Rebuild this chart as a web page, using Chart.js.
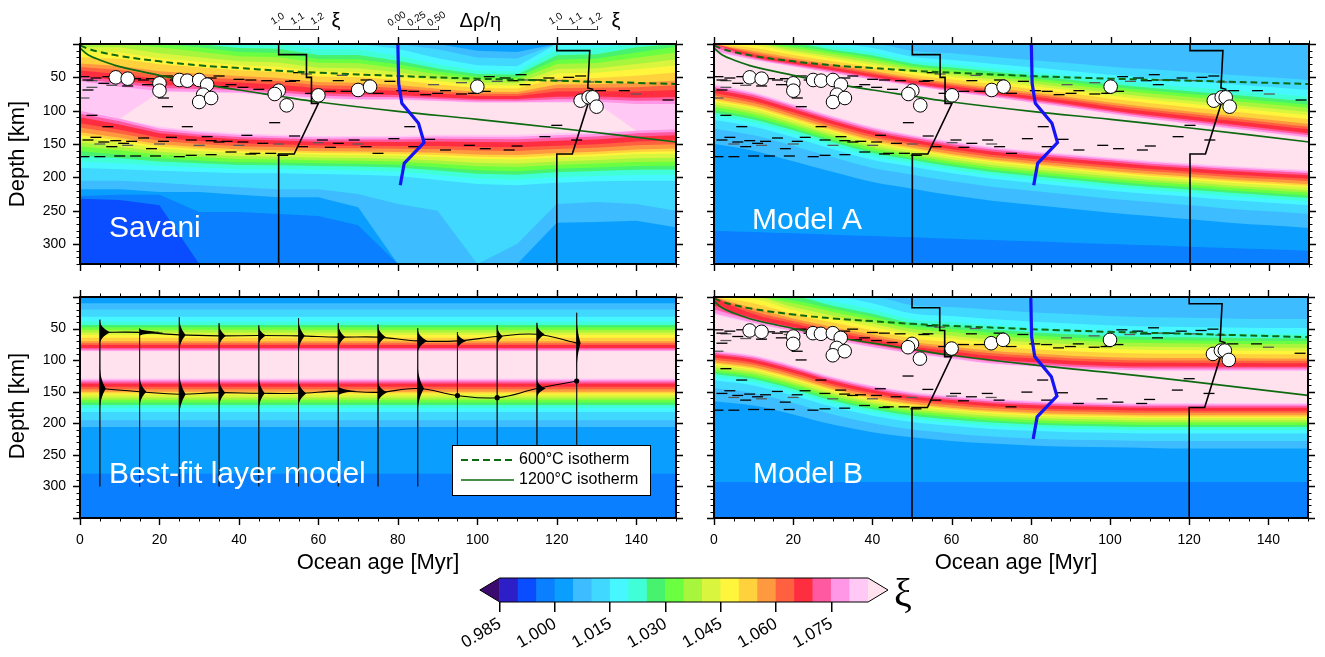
<!DOCTYPE html>
<html>
<head>
<meta charset="utf-8">
<title>xi sections</title>
<script src="https://cdn.jsdelivr.net/npm/chart.js@4.4.1/dist/chart.umd.min.js"></script>
<style>
  html, body { margin: 0; padding: 0; background: #ffffff; }
  body { position: relative; width: 1325px; height: 657px; overflow: hidden; }
  canvas { position: absolute; }
</style>
</head>
<body>
<canvas id="panelTL" width="690" height="282" style="left:0px;top:0px"></canvas>
<canvas id="panelTR" width="635" height="282" style="left:690px;top:0px"></canvas>
<canvas id="panelBL" width="690" height="375" style="left:0px;top:282px"></canvas>
<canvas id="panelBR" width="635" height="375" style="left:690px;top:282px"></canvas>
<canvas id="colorbar" width="480" height="87" style="left:460px;top:570px"></canvas>
<script>
var SANS = "'Liberation Sans', Arial, Helvetica, sans-serif";
Chart.defaults.font.family = SANS;
Chart.defaults.color = '#000';

// colour scale of xi (index 0 = below 0.985, index 21 = above 1.085)
var levelEdges = [0.985, 0.990, 0.995, 1.000, 1.005, 1.010, 1.015, 1.020, 1.025, 1.030, 1.035,
                  1.040, 1.045, 1.050, 1.055, 1.060, 1.065, 1.070, 1.075, 1.080, 1.085];
var levelColors = ['#3a0a6e', '#2d1fc8', '#0a4cff', '#0a7fff', '#0a9fff', '#3dbcff', '#40d8ff',
                   '#47f7ff', '#40ffd8', '#47f26e', '#6aff40', '#a8f53d', '#d9f53d', '#fff53d',
                   '#ffd23d', '#ff9940', '#ff6040', '#ff2d40', '#ff5aa0', '#ff96e6', '#ffc8f5', '#ffe2ee'];
var cbTickValues = [0.985, 1.000, 1.015, 1.030, 1.045, 1.060, 1.075];

// axis tick labels
var ageTickLabels = [0, 20, 40, 60, 80, 100, 120, 140];
var depthTickLabels = [50, 100, 150, 200, 250, 300];

// where the colour levels sit inside the upper (level 4 -> 21) and lower (21 -> 6) transitions
var upFrac = [0, 0.13, 0.28, 0.38, 0.45, 0.5, 0.55, 0.61, 0.66, 0.72, 0.79, 0.83, 0.87, 0.93, 0.96, 0.99, 1.0];
var loFrac = [0, 0.04, 0.09, 0.15, 0.25, 0.32, 0.4, 0.45, 0.49, 0.57, 0.64, 0.72, 0.79, 0.89, 1.0];

// columns where the xi fields were read (Myr)
var fieldAges = [0, 10, 20, 30, 40, 50, 60, 70, 80, 90, 100, 110, 120, 130, 140, 150];

// Savani
var savaniSurf = [11, 11, 10, 9, 8, 8, 7, 7, 6, 5, 4, 4, 7, 7, 8, 9];
var savaniPeak = [20, 20, 21, 21, 21, 21, 21, 21, 21, 21, 21, 21, 21, 21, 20, 20];
var savaniUTop = [5, 5, 5, 5, 6, 7, 8, 8, 7, 8, 10, 12, 8, 6, 5, 4];
var savaniUBot = [56, 64, 72, 73, 74, 78, 82, 84, 84, 86, 88, 88, 88, 88, 90, 90];
var savaniLTop = [100, 112, 124, 130, 134, 136, 138, 138, 138, 136, 136, 136, 134, 132, 130, 128];
var savaniLBot = [186, 188, 190, 192, 194, 194, 195, 196, 198, 204, 210, 212, 208, 206, 205, 205];
var savaniZ5 = [205, 205, 208, 212, 215, 218, 218, 225, 240, 250, 330, 300, 240, 237, 240, 250];
var savaniZ4 = [218, 218, 222, 222, 226, 230, 230, 245, 330, 330, 330, 330, 268, 267, 265, 275];
var savaniZ3 = [228, 226, 226, 252, 252, 255, 258, 272, 330, 330, 330, 330, 330, 330, 330, 330];
var savaniZ2 = [232, 234, 242, 330, 330, 330, 330, 330, 330, 330, 330, 330, 330, 330, 330, 330];

// Model A
var modelASurf = [17, 12, 9, 7, 6, 5, 5, 5, 5, 5, 5, 5, 5, 5, 5, 5];
var modelAPeak = [21, 21, 21, 21, 21, 21, 21, 21, 21, 21, 21, 21, 21, 21, 21, 21];
var modelAUTop = [0, 2, 3, 4, 6, 10, 14, 19, 24, 29, 34, 38, 42, 46, 50, 54];
var modelAUBot = [12, 24, 34, 44, 54, 63, 72, 80, 88, 96, 105, 113, 120, 127, 134, 141];
var modelALTop = [60, 72, 90, 108, 124, 136, 146, 154, 160, 165, 170, 175, 179, 183, 186, 189];
var modelALBot = [114, 124, 140, 158, 174, 184, 194, 202, 208, 214, 220, 225, 229, 234, 238, 242];
var modelAZ5 = [127, 137, 153, 170, 186, 196, 206, 214, 220, 226, 232, 237, 242, 247, 251, 255];
var modelAZ4 = [150, 160, 176, 192, 207, 217, 227, 235, 241, 247, 253, 258, 263, 268, 272, 276];
var modelAZ3 = [280, 282, 284, 286, 288, 290, 292, 294, 296, 298, 300, 302, 304, 306, 308, 310];
var modelAZ2 = [330, 330, 330, 330, 330, 330, 330, 330, 330, 330, 330, 330, 330, 330, 330, 330];

// Model B
var modelBSurf = [16, 12, 9, 7, 6, 5, 5, 5, 5, 5, 5, 5, 5, 5, 5, 5];
var modelBPeak = [21, 21, 21, 21, 21, 21, 21, 21, 21, 21, 21, 21, 21, 21, 21, 21];
var modelBUTop = [1, 3, 5, 7, 10, 13, 16, 20, 24, 27, 30, 32, 33, 34, 35, 35];
var modelBUBot = [28, 42, 55, 68, 80, 90, 98, 106, 110, 114, 116, 117, 117, 117, 117, 117];
var modelBLTop = [84, 92, 108, 126, 140, 150, 156, 161, 164, 166, 167, 168, 168, 168, 168, 168];
var modelBLBot = [132, 140, 156, 174, 188, 198, 204, 209, 212, 214, 215, 216, 216, 216, 216, 216];
var modelBZ5 = [144, 152, 168, 186, 200, 210, 216, 221, 224, 226, 227, 228, 228, 228, 228, 228];
var modelBZ4 = [165, 172, 186, 202, 214, 222, 228, 232, 235, 237, 238, 239, 240, 240, 240, 240];
var modelBZ3 = [293, 293, 293, 293, 293, 293, 293, 293, 293, 293, 293, 293, 293, 293, 293, 293];
var modelBZ2 = [350, 350, 350, 350, 350, 350, 350, 350, 350, 350, 350, 350, 350, 350, 350, 350];

// best-fit layer model (flat)
var layerAges = [0, 150];
var layerSurf = [4, 4];
var layerPeak = [21, 21];
var layerUTop = [10, 10];
var layerUBot = [86, 86];
var layerLTop = [129, 129];
var layerLBot = [182, 182];
var layerZ5 = [195, 195];
var layerZ4 = [206, 206];
var layerZ3 = [280, 280];
var layerZ2 = [350, 350];

// isotherms
var isoAges = [0, 2, 5, 10, 20, 30, 40, 50, 60, 80, 100, 120, 150];
var iso600Depths = [2, 7, 12, 18, 26, 32, 36, 40, 43, 48, 52, 55, 60];
var iso1200Depths = [6, 16, 24, 34, 47, 59, 69, 78, 87, 101, 113, 126, 147];

// xi profiles at 50 and 120 Myr, and the density/viscosity profile at 80 Myr
var xiProfileBase = [50, 120];
var xiProfile1Depths = [0, 16, 16, 50, 50, 89, 89, 165, 165, 330];
var xiProfile1Values = [1.0, 1.0, 1.14, 1.14, 1.165, 1.165, 1.2, 1.078, 1.0, 1.0];
var xiProfile2Depths = [0, 10, 10, 66, 68, 165, 165, 330];
var xiProfile2Values = [1.0, 1.0, 1.166, 1.156, 1.18, 1.078, 1.0, 1.0];
var xiBarTicks = [1.0, 1.1, 1.2];
var xiAgePerUnit = 50;
var dRhoBase = 80;
var dRhoDepths = [0, 59, 89, 119, 148, 179, 212];
var dRhoValues = [0.0, 0.01, 0.05, 0.26, 0.33, 0.08, 0.03];
var dRhoBarTicks = [0.0, 0.25, 0.5];
var dRhoAgePerUnit = 20;

// observed discontinuities
var circleAges = [9, 12, 20, 20, 25, 27, 30, 32, 31, 30, 33, 50, 49, 52, 60, 70, 73, 100, 126, 128, 129, 130];
var circleDepths = [50, 52, 59, 70, 54, 55, 54, 61, 76, 87, 81, 70, 75, 92, 77, 69, 64, 64, 85, 80, 80, 94];
var dashBlackAges = [1, 4, 7, 2, 6, 2, 12, 16, 17, 22, 24, 21, 22, 27, 33, 35, 36, 38, 41, 43, 45, 47, 53, 54, 55, 58, 63, 65, 67, 72,
  75, 78, 81, 84, 87, 90, 92, 96, 99, 102, 103, 107, 109, 111, 112, 115, 118, 123, 126, 131, 137, 148, 10, 14, 18, 30, 40,
  3, 7, 4, 2, 6, 8, 11, 16, 18, 23, 25, 27, 28, 32, 35, 38, 42, 44, 46, 49, 51, 54, 56, 61, 63, 65, 69, 72, 75, 79,
  83, 84, 88, 92, 98, 102, 108, 110, 117, 120, 125, 9, 13, 21, 33, 37, 41, 1, 5, 10, 14, 19, 28, 33, 43, 48];
var dashBlackDepths = [49, 51, 49, 54, 59, 69, 63, 54, 61, 48, 54, 81, 94, 49, 51, 48, 64, 61, 65, 54, 68, 55, 56, 55, 43, 74, 71, 55, 71, 54,
  74, 56, 70, 71, 76, 74, 70, 75, 74, 71, 49, 51, 55, 46, 61, 54, 51, 50, 48, 70, 70, 84, 51, 52, 52, 52, 53,
  107, 124, 140, 144, 147, 154, 149, 141, 157, 140, 169, 124, 144, 139, 147, 162, 137, 164, 149, 118, 167, 138, 154, 144, 155, 149, 144, 154, 164, 142,
  124, 154, 143, 159, 152, 157, 159, 153, 139, 122, 144, 145, 146, 146, 145, 146, 147, 169, 169, 168, 168, 168, 167, 166, 165, 164];
var dashGreyAges = [3, 9, 19, 26, 31, 57, 66, 89, 96, 105, 113, 121, 128, 5, 12, 20, 30, 40, 50, 60, 70, 3, 8, 1, 100, 140];
var dashGreyDepths = [55, 57, 56, 57, 57, 45, 47, 61, 58, 56, 54, 55, 57, 150, 152, 150, 152, 152, 150, 148, 150, 65, 62, 81, 72, 75];

// best-fit layer model: interface depths and their spreads
var bfAges = [5, 15, 25, 35, 45, 55, 65, 75, 85, 95, 105, 115, 125];
var bfUpper = [56, 56, 60, 61.5, 61, 61.5, 63.5, 63.5, 69.5, 69.5, 62.5, 59, 73];
var bfLower = [145, 150, 154, 151.5, 152.5, 152.5, 149, 151, 145, 156, 159.5, 145, 133];
var bfUpperWidth = [2.6, 6.3, 1.6, 1.7, 1.8, 1.6, 1.8, 2.0, 2.4, 2.2, 1.4, 2.0, 1.0];
var bfUpperSpread = [20, 6, 28, 20, 16, 28, 22, 20, 20, 14, 18, 18, 48];
var bfLowerWidth = [1.5, 1.7, 1.6, 1.6, 1.5, 2.0, 4.5, 2.3, 1.6, 0, 0, 2.2, 0];
var bfLowerSpread = [38, 26, 38, 25, 28, 22, 8, 18, 40, 0, 0, 16, 0];
var bfLineBottom = 300;

var ISO_GREEN = '#0d6a10';

function pairs(xs, ys) {
  return xs.map(function (x, i) { return { x: x, y: ys[i] }; });
}

// depth of every colour boundary, per column, in drawing order
function fieldBoundaries(f) {
  var n = f.surf.length, lines = [], k, i, d, t;
  for (k = 0; k <= 20; k++) {
    d = [];
    for (i = 0; i < n; i++) {
      var s = f.surf[i], p = f.peak[i];
      if (k < s) d.push(0);
      else if (k >= p) d.push(f.lTop[i]);
      else {
        var f0 = upFrac[s - 4], f1 = upFrac[p - 1 - 4];
        t = f1 > f0 ? (upFrac[k - 4] - f0) / (f1 - f0) : 0;
        d.push(f.uTop[i] + t * (f.uBot[i] - f.uTop[i]));
      }
    }
    lines.push({ depths: d, color: levelColors[k + 1] });
  }
  for (k = 20; k >= 0; k--) {
    d = [];
    for (i = 0; i < n; i++) {
      var pk = f.peak[i];
      if (k >= pk) d.push(f.lTop[i]);
      else if (k >= 6) {
        var g0 = loFrac[20 - (pk - 1)], g1 = loFrac[14];
        t = g1 > g0 ? (loFrac[20 - k] - g0) / (g1 - g0) : 0;
        d.push(f.lTop[i] + t * (f.lBot[i] - f.lTop[i]));
      } else if (k === 5) d.push(f.z5[i]);
      else if (k === 4) d.push(f.z4[i]);
      else if (k === 3) d.push(f.z3[i]);
      else if (k === 2) d.push(f.z2[i]);
      else d.push(f.bottom);
    }
    lines.push({ depths: d, color: levelColors[k] });
  }
  return lines;
}

function fieldDatasets(ages, f, smooth) {
  return fieldBoundaries(f).map(function (ln, j) {
    return {
      type: 'line',
      data: pairs(ages, ln.depths),
      yAxisID: 'y',
      borderWidth: 0,
      borderColor: 'rgba(0,0,0,0)',
      pointRadius: 0,
      backgroundColor: ln.color,
      fill: { value: f.bottom },
      tension: smooth ? 0.3 : 0,
      cubicInterpolationMode: smooth ? 'monotone' : 'default',
      order: 1000 - j
    };
  });
}

function overlayDatasets(yAxisID) {
  var xi1 = xiProfile1Values.map(function (v) { return xiProfileBase[0] + (v - 1) * xiAgePerUnit; });
  var xi2 = xiProfile2Values.map(function (v) { return xiProfileBase[1] + (v - 1) * xiAgePerUnit; });
  var rho = dRhoValues.map(function (v) { return dRhoBase + v * dRhoAgePerUnit; });
  return [
    { type: 'scatter', data: pairs(dashGreyAges, dashGreyDepths), yAxisID: yAxisID, pointStyle: 'line',
      pointRadius: 5.5, borderColor: '#5a5a5a', borderWidth: 1.3, order: 41 },
    { type: 'scatter', data: pairs(dashBlackAges, dashBlackDepths), yAxisID: yAxisID, pointStyle: 'line',
      pointRadius: 5.5, borderColor: '#000', borderWidth: 1.3, order: 40 },
    { type: 'line', data: pairs(isoAges, iso600Depths), yAxisID: yAxisID, borderColor: ISO_GREEN, borderWidth: 2,
      borderDash: [7, 4], pointRadius: 0, fill: false, tension: 0.4, order: 31 },
    { type: 'line', data: pairs(isoAges, iso1200Depths), yAxisID: yAxisID, borderColor: ISO_GREEN, borderWidth: 1.7,
      pointRadius: 0, fill: false, tension: 0.4, order: 30 },
    { type: 'line', data: pairs(xi1, xiProfile1Depths), yAxisID: yAxisID, borderColor: '#000', borderWidth: 1.6,
      pointRadius: 0, fill: false, tension: 0, order: 21 },
    { type: 'line', data: pairs(xi2, xiProfile2Depths), yAxisID: yAxisID, borderColor: '#000', borderWidth: 1.6,
      pointRadius: 0, fill: false, tension: 0, order: 20 },
    { type: 'line', data: pairs(rho, dRhoDepths), yAxisID: yAxisID, borderColor: '#1414f5', borderWidth: 3.2,
      pointRadius: 0, fill: false, tension: 0, order: 15 },
    { type: 'scatter', data: pairs(circleAges, circleDepths), yAxisID: yAxisID, pointStyle: 'circle',
      pointRadius: 6.8, backgroundColor: '#fff', borderColor: '#000', borderWidth: 1, order: 10 }
  ];
}

var ageMinor = [], depthMinor = [];
for (var a = 0; a <= 150; a += 5) ageMinor.push(a);
for (var dd = 0; dd <= 350; dd += 10) depthMinor.push(dd);

function framePlugin() {
  return {
    id: 'frameTicks',
    afterDraw: function (chart) {
      var ctx = chart.ctx, c = chart.chartArea, xs = chart.scales.x, ys = chart.scales.y;
      ctx.save();
      ctx.strokeStyle = '#000';
      ageMinor.forEach(function (v) {
        var major = v % 20 === 0, len = major ? 7 : 3.5;
        var px = Math.round(xs.getPixelForValue(v)) + 0.5;
        ctx.lineWidth = major ? 1.4 : 1;
        ctx.beginPath();
        ctx.moveTo(px, c.top); ctx.lineTo(px, c.top - len);
        ctx.moveTo(px, c.bottom); ctx.lineTo(px, c.bottom + len);
        ctx.stroke();
      });
      depthMinor.forEach(function (v) {
        if (v > ys.max) return;
        var major = v % 50 === 0, len = major ? 7 : 3.5;
        var py = Math.round(ys.getPixelForValue(v)) + 0.5;
        ctx.lineWidth = major ? 1.4 : 1;
        ctx.beginPath();
        ctx.moveTo(c.left, py); ctx.lineTo(c.left - len, py);
        ctx.moveTo(c.right, py); ctx.lineTo(c.right + len, py);
        ctx.stroke();
      });
      ctx.lineWidth = 2;
      ctx.strokeRect(c.left, c.top, c.right - c.left, c.bottom - c.top);
      ctx.restore();
    }
  };
}

function textPlugin(texts) {
  return {
    id: 'texts',
    afterDraw: function (chart) {
      var ctx = chart.ctx;
      texts.forEach(function (t) {
        ctx.save();
        ctx.font = t.font;
        ctx.fillStyle = t.color || '#000';
        ctx.textAlign = t.align || 'left';
        ctx.textBaseline = t.baseline || 'alphabetic';
        ctx.translate(t.x, t.y);
        if (t.rot) ctx.rotate(t.rot);
        ctx.fillText(t.text, 0, 0);
        ctx.restore();
      });
    }
  };
}

function scaleBarPlugin() {
  return {
    id: 'scaleBars',
    afterDraw: function (chart) {
      var ctx = chart.ctx, xs = chart.scales.x, y = 29;
      var bars = [
        { base: xiProfileBase[0], vals: xiBarTicks, ref: 1, per: xiAgePerUnit, fmt: 1, label: 'ξ', gap: 13 },
        { base: dRhoBase, vals: dRhoBarTicks, ref: 0, per: dRhoAgePerUnit, fmt: 2, label: 'Δρ/η', gap: 22 },
        { base: xiProfileBase[1], vals: xiBarTicks, ref: 1, per: xiAgePerUnit, fmt: 1, label: 'ξ', gap: 15 }
      ];
      ctx.save();
      bars.forEach(function (b) {
        var px = function (v) { return xs.getPixelForValue(b.base + (v - b.ref) * b.per); };
        var x0 = px(b.vals[0]), x1 = px(b.vals[b.vals.length - 1]);
        ctx.strokeStyle = '#333';
        ctx.lineWidth = 1;
        ctx.beginPath();
        ctx.moveTo(x0, y + 0.5); ctx.lineTo(x1, y + 0.5);
        b.vals.forEach(function (v) {
          var p = Math.round(px(v)) + 0.5;
          ctx.moveTo(p, y - 3); ctx.lineTo(p, y + 1);
        });
        ctx.stroke();
        ctx.fillStyle = '#000';
        ctx.font = '10px ' + SANS;
        b.vals.forEach(function (v) {
          ctx.save();
          ctx.translate(px(v) - 1, y - 10);
          ctx.rotate(-0.55);
          ctx.textAlign = 'center';
          ctx.textBaseline = 'middle';
          ctx.fillText(v.toFixed(b.fmt), 0, 0);
          ctx.restore();
        });
        ctx.font = '20px ' + SANS;
        ctx.textAlign = 'left';
        ctx.textBaseline = 'alphabetic';
        ctx.fillText(b.label, x1 + b.gap, 27);
      });
      ctx.restore();
    }
  };
}

function glyphPlugin() {
  return {
    id: 'glyphs',
    afterDatasetsDraw: function (chart) {
      var ctx = chart.ctx, xs = chart.scales.x, ys = chart.scales.y;
      function spike(age, depth, w, h) {
        if (!w) return;
        var x0 = xs.getPixelForValue(age), xp = xs.getPixelForValue(age + w);
        var yt = ys.getPixelForValue(depth - h), yc = ys.getPixelForValue(depth), yb = ys.getPixelForValue(depth + h);
        ctx.beginPath();
        ctx.moveTo(x0, yt);
        ctx.bezierCurveTo(x0, yt + (yc - yt) * 0.6, x0 + (xp - x0) * 0.75, yc - (yc - yt) * 0.12, xp, yc);
        ctx.bezierCurveTo(x0 + (xp - x0) * 0.75, yc + (yb - yc) * 0.12, x0, yb - (yb - yc) * 0.6, x0, yb);
        ctx.closePath();
        ctx.fill();
      }
      ctx.save();
      ctx.fillStyle = '#000';
      bfAges.forEach(function (age, i) {
        spike(age, bfUpper[i], bfUpperWidth[i], bfUpperSpread[i]);
        spike(age, bfLower[i], bfLowerWidth[i], bfLowerSpread[i]);
      });
      ctx.restore();
    }
  };
}

function legendPlugin() {
  return {
    id: 'isoLegend',
    afterDraw: function (chart) {
      var ctx = chart.ctx;
      ctx.save();
      ctx.fillStyle = '#fff';
      ctx.fillRect(452, 163, 198, 50);
      ctx.strokeStyle = '#000';
      ctx.lineWidth = 1;
      ctx.strokeRect(452.5, 163.5, 198, 50);
      ctx.strokeStyle = ISO_GREEN;
      ctx.lineWidth = 2;
      ctx.setLineDash([7, 4]);
      ctx.beginPath(); ctx.moveTo(461, 178); ctx.lineTo(514, 178); ctx.stroke();
      ctx.setLineDash([]);
      ctx.lineWidth = 1.7;
      ctx.beginPath(); ctx.moveTo(461, 198); ctx.lineTo(514, 198); ctx.stroke();
      ctx.fillStyle = '#000';
      ctx.font = '16px ' + SANS;
      ctx.textBaseline = 'middle';
      ctx.fillText('600°C isotherm', 519, 178);
      ctx.fillText('1200°C isotherm', 519, 198);
      ctx.restore();
    }
  };
}

function noPad(s) { s.paddingTop = 0; s.paddingBottom = 0; s.paddingLeft = 0; s.paddingRight = 0; }

function makePanel(id, cfg) {
  var scales = {
    x: {
      type: 'linear', min: 0, max: 150, position: 'bottom', display: cfg.xLabels,
      grid: { display: false, drawTicks: false }, border: { display: false },
      ticks: { font: { size: 14 }, padding: 14, maxRotation: 0, autoSkip: false },
      afterBuildTicks: function (s) { s.ticks = ageTickLabels.map(function (v) { return { value: v }; }); },
      afterFit: function (s) { s.height = cfg.xLabels ? 139 : 0; noPad(s); }
    },
    y: {
      type: 'linear', reverse: true, min: 0, max: cfg.yMax, position: 'left', display: cfg.yLabels,
      grid: { display: false, drawTicks: false }, border: { display: false },
      ticks: { font: { size: 14 }, padding: 14, autoSkip: false },
      afterBuildTicks: function (s) { s.ticks = depthTickLabels.map(function (v) { return { value: v }; }); },
      afterFit: function (s) { s.width = cfg.yLabels ? 80 : 0; noPad(s); }
    }
  };
  if (cfg.overlayAxis && cfg.overlayAxis !== 'y') {
    scales[cfg.overlayAxis] = { type: 'linear', reverse: true, min: 0, max: 330, display: false,
      afterFit: function (s) { s.width = 0; noPad(s); } };
  }
  return new Chart(document.getElementById(id), {
    type: 'line',
    data: { datasets: cfg.datasets },
    options: {
      responsive: false,
      animation: false,
      events: [],
      layout: { padding: cfg.padding },
      plugins: { legend: { display: false }, tooltip: { enabled: false } },
      scales: scales
    },
    plugins: cfg.plugins
  });
}

var fieldSavani = { surf: savaniSurf, peak: savaniPeak, uTop: savaniUTop, uBot: savaniUBot, lTop: savaniLTop,
  lBot: savaniLBot, z5: savaniZ5, z4: savaniZ4, z3: savaniZ3, z2: savaniZ2, bottom: 330 };
var fieldA = { surf: modelASurf, peak: modelAPeak, uTop: modelAUTop, uBot: modelAUBot, lTop: modelALTop,
  lBot: modelALBot, z5: modelAZ5, z4: modelAZ4, z3: modelAZ3, z2: modelAZ2, bottom: 330 };
var fieldB = { surf: modelBSurf, peak: modelBPeak, uTop: modelBUTop, uBot: modelBUBot, lTop: modelBLTop,
  lBot: modelBLBot, z5: modelBZ5, z4: modelBZ4, z3: modelBZ3, z2: modelBZ2, bottom: 350 };
var fieldLayer = { surf: layerSurf, peak: layerPeak, uTop: layerUTop, uBot: layerUBot, lTop: layerLTop,
  lBot: layerLBot, z5: layerZ5, z4: layerZ4, z3: layerZ3, z2: layerZ2, bottom: 350 };

var labelFont = '30px ' + SANS;
var titleFont = '22px ' + SANS;

// Savani
makePanel('panelTL', {
  yMax: 330, xLabels: false, yLabels: true,
  padding: { top: 44, right: 14, bottom: 18, left: 0 },
  datasets: fieldDatasets(fieldAges, fieldSavani, false).concat(overlayDatasets('y')),
  plugins: [framePlugin(), scaleBarPlugin(), textPlugin([
    { text: 'Savani', x: 109, y: 237, font: labelFont, color: '#fff' },
    { text: 'Depth [km]', x: 18, y: 154, font: titleFont, align: 'center', baseline: 'middle', rot: -Math.PI / 2 }
  ])]
});

// Model A
makePanel('panelTR', {
  yMax: 330, xLabels: false, yLabels: false,
  padding: { top: 44, right: 16, bottom: 18, left: 24 },
  datasets: fieldDatasets(fieldAges, fieldA, true).concat(overlayDatasets('y')),
  plugins: [framePlugin(), textPlugin([
    { text: 'Model A', x: 62, y: 229, font: labelFont, color: '#fff' }
  ])]
});

// best-fit layer model
var bfDatasets = [];
bfAges.forEach(function (age, i) {
  bfDatasets.push({ type: 'line', data: [{ x: age, y: bfUpper[i] - bfUpperSpread[i] }, { x: age, y: bfLineBottom }],
    borderColor: '#1a1a1a', borderWidth: 0.7, pointRadius: 0, fill: false, order: 40 });
});
bfDatasets.push({ type: 'line', data: pairs(bfAges, bfUpper), borderColor: '#000', borderWidth: 1.1,
  pointRadius: 0, fill: false, tension: 0.4, order: 30 });
bfDatasets.push({ type: 'line', data: pairs(bfAges, bfLower), borderColor: '#000', borderWidth: 1.1,
  pointRadius: 0, fill: false, tension: 0.4, order: 29 });
bfDatasets.push({ type: 'scatter',
  data: pairs(bfAges, bfLower).filter(function (p, i) { return !bfLowerWidth[i]; }),
  pointRadius: 2.6, backgroundColor: '#000', borderColor: '#000', borderWidth: 0, order: 10 });

makePanel('panelBL', {
  yMax: 350, xLabels: true, yLabels: true,
  padding: { top: 15, right: 14, bottom: 0, left: 0 },
  datasets: fieldDatasets(layerAges, fieldLayer, false).concat(bfDatasets),
  plugins: [glyphPlugin(), framePlugin(), legendPlugin(), textPlugin([
    { text: 'Best-fit layer model', x: 109, y: 201, font: labelFont, color: '#fff' },
    { text: 'Depth [km]', x: 18, y: 124, font: titleFont, align: 'center', baseline: 'middle', rot: -Math.PI / 2 },
    { text: 'Ocean age [Myr]', x: 378, y: 281, font: titleFont, align: 'center', baseline: 'middle' }
  ])]
});

// Model B
makePanel('panelBR', {
  yMax: 350, xLabels: true, yLabels: false, overlayAxis: 'yo',
  padding: { top: 15, right: 17, bottom: 0, left: 24 },
  datasets: fieldDatasets(fieldAges, fieldB, true).concat(overlayDatasets('yo')),
  plugins: [framePlugin(), textPlugin([
    { text: 'Model B', x: 63, y: 201, font: labelFont, color: '#fff' },
    { text: 'Ocean age [Myr]', x: 326, y: 281, font: titleFont, align: 'center', baseline: 'middle' }
  ])]
});

// colour bar
var cbMin = 0.9796, cbMax = 1.0904;
var cbDecor = {
  id: 'cbDecor',
  afterDraw: function (chart) {
    var ctx = chart.ctx, c = chart.chartArea, xs = chart.scales.x;
    var x0 = xs.getPixelForValue(levelEdges[0]), x1 = xs.getPixelForValue(levelEdges[20]);
    var ym = (c.top + c.bottom) / 2;
    ctx.save();
    ctx.fillStyle = levelColors[0];
    ctx.beginPath(); ctx.moveTo(x0, c.top); ctx.lineTo(c.left, ym); ctx.lineTo(x0, c.bottom); ctx.closePath(); ctx.fill();
    ctx.fillStyle = levelColors[21];
    ctx.beginPath(); ctx.moveTo(x1, c.top); ctx.lineTo(c.right, ym); ctx.lineTo(x1, c.bottom); ctx.closePath(); ctx.fill();
    ctx.strokeStyle = '#000';
    ctx.lineWidth = 1;
    ctx.beginPath();
    ctx.moveTo(x0, c.top); ctx.lineTo(x1, c.top); ctx.lineTo(c.right, ym); ctx.lineTo(x1, c.bottom);
    ctx.lineTo(x0, c.bottom); ctx.lineTo(c.left, ym); ctx.closePath();
    ctx.stroke();
    ctx.fillStyle = '#000';
    ctx.font = "40px 'Liberation Serif', 'DejaVu Serif', serif";
    ctx.textAlign = 'center';
    ctx.textBaseline = 'alphabetic';
    ctx.fillText('ξ', c.right + 15, 36);
    ctx.restore();
  }
};

new Chart(document.getElementById('colorbar'), {
  type: 'bar',
  data: {
    labels: ['xi'],
    datasets: [{
      data: levelColors.slice(1, 21).map(function (col, i) { return { x: [levelEdges[i], levelEdges[i + 1]], y: 'xi' }; }),
      backgroundColor: levelColors.slice(1, 21),
      borderWidth: 0,
      barPercentage: 1,
      categoryPercentage: 1
    }]
  },
  options: {
    indexAxis: 'y',
    responsive: false,
    animation: false,
    events: [],
    layout: { padding: { top: 8, left: 18, right: 52, bottom: 0 } },
    plugins: { legend: { display: false }, tooltip: { enabled: false } },
    scales: {
      x: {
        type: 'linear', min: cbMin, max: cbMax,
        grid: { display: true, drawOnChartArea: false, drawTicks: true, tickLength: 10, color: '#000', lineWidth: 1.5 },
        border: { display: false },
        ticks: { font: { size: 17 }, padding: 2, minRotation: 30, maxRotation: 30, autoSkip: false,
          callback: function (v) { return Number(v).toFixed(3); } },
        afterBuildTicks: function (s) { s.ticks = cbTickValues.map(function (v) { return { value: v }; }); },
        afterFit: function (s) { s.height = 55; }
      },
      y: { display: false }
    }
  },
  plugins: [cbDecor]
});
</script>
</body>
</html>
